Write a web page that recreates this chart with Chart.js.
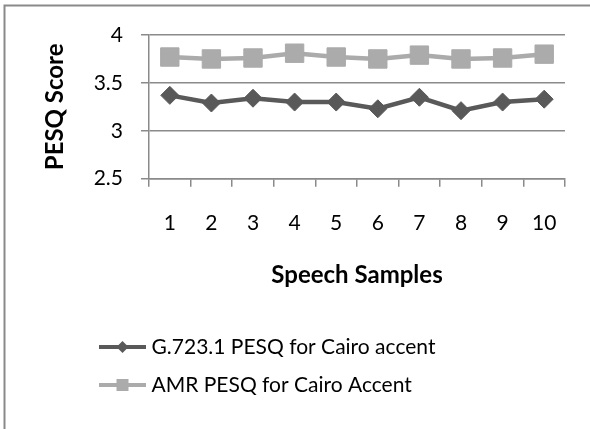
<!DOCTYPE html>
<html>
<head>
<meta charset="utf-8">
<script src="https://cdn.jsdelivr.net/npm/chart.js@4"></script>
<style>
    body { margin: 0; background: #ffffff; }
    #wrap { position: relative; width: 590px; height: 429px; }
</style>
</head>
<body>
<div id="wrap"><canvas id="PesqChart"></canvas></div>
<script>
const samples = ['1', '2', '3', '4', '5', '6', '7', '8', '9', '10'];
const g723Pesq = [3.37, 3.29, 3.34, 3.30, 3.30, 3.23, 3.35, 3.21, 3.30, 3.33];
const amrPesq = [3.77, 3.75, 3.76, 3.81, 3.77, 3.75, 3.79, 3.75, 3.76, 3.80];
const seriesNames = ['G.723.1 PESQ for Cairo accent', 'AMR PESQ for Cairo Accent'];

const darkGray = '#595959';
const lightGray = '#ababab';
const axisGray = '#8a8a8a';

// little "line with marker" picture for the legend, like Excel does
function LegendIcon(color, shape) {
    var c = document.createElement('canvas');
    c.width = 47;
    c.height = 16;
    var ctx = c.getContext('2d');
    ctx.strokeStyle = color;
    ctx.fillStyle = color;
    ctx.lineWidth = 4;
    ctx.beginPath();
    ctx.moveTo(0, 8);
    ctx.lineTo(47, 8);
    ctx.stroke();
    ctx.beginPath();
    if (shape === 'diamond') {
        ctx.moveTo(23.5, 2);
        ctx.lineTo(29.5, 8);
        ctx.lineTo(23.5, 14);
        ctx.lineTo(17.5, 8);
    } else {
        ctx.rect(17.5, 2, 12, 12);
    }
    ctx.closePath();
    ctx.fill();
    return c;
}

const icons = [LegendIcon(darkGray, 'diamond'), LegendIcon(lightGray, 'square')];

const framePlugin = {
    id: 'frame',
    afterLayout: function (chart) {
        // legend rows start at the same left edge
        chart.legend.left = 87;
    },
    afterDraw: function (chart) {
        var ctx = chart.ctx;
        ctx.save();
        ctx.strokeStyle = axisGray;
        ctx.lineWidth = 2;
        ctx.beginPath();
        ctx.moveTo(4.5, 429);
        ctx.lineTo(4.5, 5.5);
        ctx.lineTo(590, 5.5);
        ctx.stroke();
        ctx.restore();
    }
};

new Chart(document.getElementById('PesqChart'), {
    type: 'line',
    data: {
        labels: samples,
        datasets: [
            {
                label: seriesNames[0],
                data: g723Pesq,
                borderColor: darkGray,
                backgroundColor: darkGray,
                borderWidth: 4.5,
                pointStyle: 'rectRot',
                pointRadius: 9,
                pointBorderWidth: 1,
                tension: 0
            },
            {
                label: seriesNames[1],
                data: amrPesq,
                borderColor: lightGray,
                backgroundColor: lightGray,
                borderWidth: 4.5,
                pointStyle: 'rect',
                pointRadius: 13,
                pointBorderWidth: 1,
                tension: 0
            }
        ]
    },
    options: {
        responsive: true,
        maintainAspectRatio: false,
        animation: false,
        layout: {
            padding: { left: 4, right: 25, top: 35, bottom: 23.5 }
        },
        plugins: {
            tooltip: { enabled: false },
            legend: {
                position: 'bottom',
                align: 'start',
                labels: {
                    usePointStyle: true,
                    pointStyleWidth: 37,
                    padding: 17,
                    color: '#000000',
                    font: { family: 'Lato', size: 21 },
                    generateLabels: function (chart) {
                        var items = Chart.defaults.plugins.legend.labels.generateLabels(chart);
                        items.forEach(function (item, i) {
                            item.pointStyle = icons[i];
                        });
                        return items;
                    }
                }
            }
        },
        scales: {
            x: {
                offset: true,
                grid: {
                    offset: true,
                    drawOnChartArea: false,
                    drawTicks: true,
                    tickLength: 8,
                    color: axisGray,
                    lineWidth: 1.5
                },
                border: { color: axisGray, width: 1.5 },
                ticks: {
                    color: '#000000',
                    padding: 24,
                    font: { family: 'Lato', size: 21 }
                },
                title: {
                    display: true,
                    text: 'Speech Samples',
                    color: '#000000',
                    font: { family: 'Lato', size: 24, weight: 'bold' },
                    padding: { top: 0, bottom: 30 }
                },
                afterFit: function (scale) {
                    scale.height = 140.8;
                }
            },
            y: {
                min: 2.5,
                max: 4,
                grid: {
                    color: axisGray,
                    lineWidth: 1.5,
                    tickLength: 8
                },
                border: { color: axisGray, width: 1.5 },
                ticks: {
                    stepSize: 0.5,
                    color: '#000000',
                    padding: 18,
                    font: { family: 'Lato', size: 21 },
                    callback: function (value) {
                        return String(value);
                    }
                },
                title: {
                    display: true,
                    text: 'PESQ Score',
                    color: '#000000',
                    font: { family: 'Lato', size: 24, weight: 'bold' },
                    padding: { top: 36.6, bottom: 0 }
                },
                afterFit: function (scale) {
                    scale.width = 145;
                }
            }
        }
    },
    plugins: [framePlugin]
});
</script>
</body>
</html>
